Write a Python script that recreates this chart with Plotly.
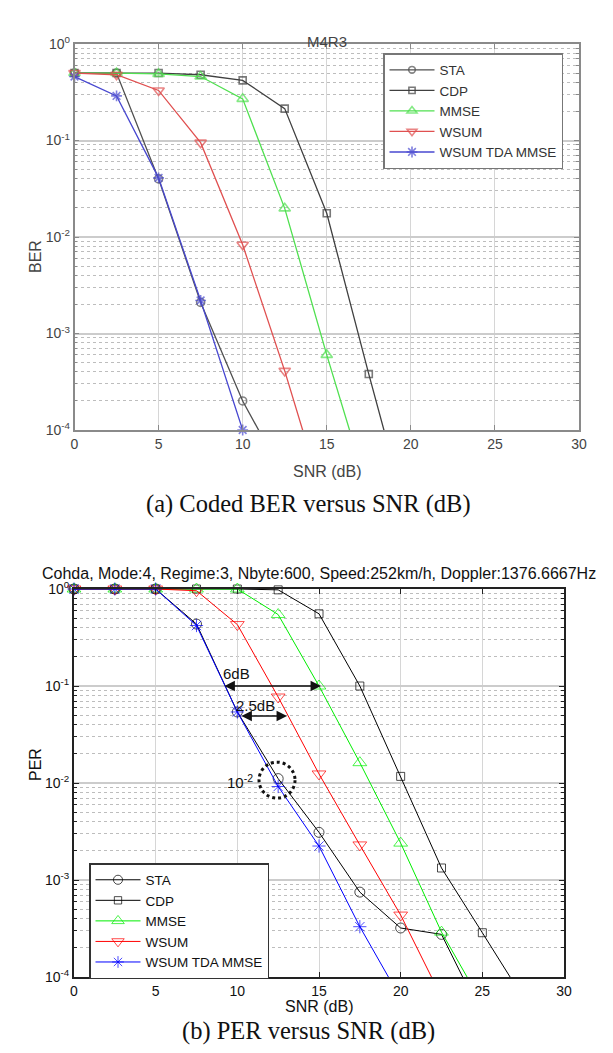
import math
import plotly.graph_objects as go

# ---------------- data ----------------
snr_a = [0, 2.5, 5, 7.5, 10, 12.5, 15, 17.5, 20]
ber_sta = [0.5, 0.5, 0.04, 0.0021, 2.0e-4, 3.2e-5]
ber_cdp = [0.5, 0.5, 0.5, 0.48, 0.42, 0.214, 0.0176, 3.8e-4, 9.3e-6]
ber_mmse = [0.5, 0.5, 0.49, 0.46, 0.27, 0.0198, 6.0e-4, 2.2e-5]
ber_wsum = [0.5, 0.48, 0.33, 0.095, 0.0083, 4.1e-4, 1.5e-5]
ber_tda = [0.46, 0.29, 0.041, 0.0022, 1.0e-4]

snr_b = [0, 2.5, 5, 7.5, 10, 12.5, 15, 17.5, 20, 22.5, 25, 27.5]
per_sta = [1, 1, 1, 0.435, 0.054, 0.0111, 3.1e-3, 7.5e-4, 3.2e-4, 2.75e-4, 3.9e-5]
per_cdp = [1, 1, 1, 1, 1, 0.98, 0.555, 0.1, 0.0117, 1.33e-3, 2.86e-4, 6.1e-5]
per_mmse = [1, 1, 1, 1, 1, 0.545, 0.1, 0.0162, 2.4e-3, 2.9e-4, 5.3e-5]
per_wsum = [1, 1, 1, 0.96, 0.43, 0.077, 0.0124, 2.3e-3, 4.35e-4, 6.2e-5]
per_tda = [1, 1, 1, 0.42, 0.054, 0.0092, 2.24e-3, 3.3e-4, 6.0e-5]

names = ["STA", "CDP", "MMSE", "WSUM", "WSUM TDA MMSE"]
x_ticks = [0, 5, 10, 15, 20, 25, 30]
y_ticks = [1e-4, 1e-3, 1e-2, 1e-1, 1]
y_ticktext = ["10<sup>-4</sup>", "10<sup>-3</sup>", "10<sup>-2</sup>", "10<sup>-1</sup>", "10<sup>0</sup>"]
minor_vals = [m * 10 ** e for e in range(-4, 0) for m in range(2, 10)]

title_a = "M4R3"
title_b = "Cohda, Mode:4, Regime:3, Nbyte:600, Speed:252km/h, Doppler:1376.6667Hz"
caption_a = "(a) Coded BER versus SNR (dB)"
caption_b = "(b) PER versus SNR (dB)"

# annotation data for (b)
arrow6_x = [9.12, 15.12]
arrow6_y = 0.1
arrow25_x = [10.16, 13.04]
arrow25_y = 0.049
circle_x, circle_y = 12.43, 0.0107

W, H = 613, 1053
SANS = "Liberation Sans, Arial, sans-serif"
SERIF = "Liberation Serif, Times New Roman, serif"


def px_x(p):
    return p / W


def px_y(p):
    return 1 - p / H


# plot areas (pixels)
A_L, A_R, A_T, A_B = 66.5, 571, 36, 422
B_L, B_R, B_T, B_B = 66, 556, 581, 969

fig = go.Figure()

symbols = ["circle-open", "square-open", "triangle-up-open", "triangle-down-open", "asterisk-open"]
colors_a = ["#505050", "#404040", "#50e050", "#e05050", "#4848d0"]
colors_b = ["#000000", "#000000", "#00ee00", "#ff0000", "#0000ff"]
sizes_a = [8, 7, 10, 10, 9]
sizes_b = [10, 8, 12, 12, 11]


def msize(vals, s):
    return [s if v >= 1e-4 else 0 for v in vals]


for i, (ys, name) in enumerate(zip([ber_sta, ber_cdp, ber_mmse, ber_wsum, ber_tda], names)):
    fig.add_trace(go.Scatter(
        x=snr_a[:len(ys)], y=ys, name=name, mode="lines+markers",
        xaxis="x", yaxis="y", legend="legend", cliponaxis=False,
        line=dict(color=colors_a[i], width=1.3),
        marker=dict(symbol=symbols[i], size=msize(ys, sizes_a[i]), color=colors_a[i],
                    line=dict(color=colors_a[i], width=1.6)),
    ))

for i, (ys, name) in enumerate(zip([per_sta, per_cdp, per_mmse, per_wsum, per_tda], names)):
    fig.add_trace(go.Scatter(
        x=snr_b[:len(ys)], y=ys, name=name, mode="lines+markers",
        xaxis="x2", yaxis="y2", legend="legend2", cliponaxis=False,
        line=dict(color=colors_b[i], width=1),
        marker=dict(symbol=symbols[i], size=msize(ys, sizes_b[i]), color=colors_b[i],
                    line=dict(color=colors_b[i], width=1)),
    ))


def xaxis(domain, anchor, lc, tc, tfs, lw):
    return dict(domain=domain, anchor=anchor, range=[0, 30], tickvals=x_ticks,
                showline=True, linecolor=lc, linewidth=lw, mirror="allticks",
                ticks="inside", ticklen=5, tickcolor=lc, showgrid=True,
                gridcolor="#d6d6d6", gridwidth=1, zeroline=False, automargin=False,
                tickfont=dict(family=SANS, size=tfs, color=tc))


def yaxis(domain, anchor, lc, tc, tfs, lw):
    return dict(domain=domain, anchor=anchor, type="log", range=[-4, 0],
                tickvals=y_ticks, ticktext=y_ticktext, automargin=False,
                showline=True, linecolor=lc, linewidth=lw, mirror="allticks",
                ticks="inside", ticklen=5, tickcolor=lc, showgrid=True,
                gridcolor="#cccccc", gridwidth=2, zeroline=False,
                tickfont=dict(family=SANS, size=tfs, color=tc),
                minor=dict(tickvals=minor_vals, showgrid=True, griddash="dot",
                           gridcolor="#bdbdbd", gridwidth=1, ticks="inside",
                           ticklen=3, tickcolor=lc))


fig.update_layout(
    width=W, height=H, margin=dict(l=0, r=0, t=0, b=0, autoexpand=False),
    paper_bgcolor="white", plot_bgcolor="white",
    font=dict(family=SANS, size=13, color="#222"),
    xaxis=xaxis([px_x(A_L), px_x(A_R)], "y", "#8a8a8a", "#444", 14, 1.5),
    yaxis=yaxis([px_y(A_B), px_y(A_T)], "x", "#8a8a8a", "#444", 14, 1.5),
    xaxis2=xaxis([px_x(B_L), px_x(B_R)], "y2", "#222", "#111", 14, 2),
    yaxis2=yaxis([px_y(B_B), px_y(B_T)], "x2", "#222", "#111", 14, 2),
    legend=dict(x=px_x(375), y=px_y(45), xanchor="left", yanchor="top",
                bgcolor="white", bordercolor="#777", borderwidth=1.5,
                font=dict(family=SANS, size=13.5, color="#333"), itemwidth=45,
                tracegroupgap=0),
    legend2=dict(x=px_x(81), y=px_y(855), xanchor="left", yanchor="top",
                 bgcolor="white", bordercolor="#333", borderwidth=1.5,
                 font=dict(family=SANS, size=13.5, color="#111"), itemwidth=45,
                 tracegroupgap=0),
    showlegend=True,
)

ann = []
# titles
ann.append(dict(text=title_a, x=px_x(319), y=px_y(23), xref="paper", yref="paper",
                showarrow=False, font=dict(family=SANS, size=15, color="#444")))
ann.append(dict(text=title_b, x=px_x(311), y=px_y(565), xref="paper", yref="paper",
                showarrow=False, font=dict(family=SANS, size=16, color="#111")))
# axis titles
ann.append(dict(text="SNR (dB)", x=px_x(319), y=px_y(463), xref="paper", yref="paper",
                showarrow=False, font=dict(family=SANS, size=16, color="#444")))
ann.append(dict(text="BER", x=px_x(17), y=px_y(230), xref="paper", yref="paper", textangle=-90,
                showarrow=False, font=dict(family=SANS, size=16, color="#444")))
ann.append(dict(text="SNR (dB)", x=px_x(311), y=px_y(1009), xref="paper", yref="paper",
                showarrow=False, font=dict(family=SANS, size=16, color="#111")))
ann.append(dict(text="PER", x=px_x(17), y=px_y(775), xref="paper", yref="paper", textangle=-90,
                showarrow=False, font=dict(family=SANS, size=16, color="#111")))
# captions
ann.append(dict(text=caption_a, x=px_x(300), y=px_y(496), xref="paper", yref="paper",
                showarrow=False, font=dict(family=SERIF, size=24.5, color="#111")))
ann.append(dict(text=caption_b, x=px_x(300), y=px_y(1039), xref="paper", yref="paper",
                showarrow=False, font=dict(family=SERIF, size=24.5, color="#111")))
# arrows in (b)
for xs, yv in [(arrow6_x, arrow6_y), (arrow25_x, arrow25_y)]:
    ann.append(dict(x=xs[1], y=math.log10(yv), ax=xs[0], ay=math.log10(yv),
                    xref="x2", yref="y2", axref="x2", ayref="y2", text="",
                    showarrow=True, arrowside="end+start", arrowhead=2, startarrowhead=2,
                    arrowsize=1.3, startarrowsize=1.3, arrowwidth=1.6, arrowcolor="#111"))
ann.append(dict(text="6dB", x=9.92, y=-0.866, xref="x2", yref="y2",
                showarrow=False, font=dict(family=SANS, size=15, color="#111")))
ann.append(dict(text="2.5dB", x=11.14, y=-1.206, xref="x2", yref="y2",
                showarrow=False, font=dict(family=SANS, size=15, color="#111")))
ann.append(dict(text="10<sup>-2</sup>", x=11.1, y=-1.98, xanchor="right", xref="x2", yref="y2",
                showarrow=False, font=dict(family=SANS, size=15, color="#111")))
fig.update_layout(annotations=ann)

# dotted circle around the 10^-2 point (radius ~18 px)
rx = 18 / (B_R - B_L) * 30
ry = 18 / ((B_B - B_T) / 4)
fig.add_shape(type="circle", xref="x2", yref="y2",
              x0=circle_x - rx, x1=circle_x + rx,
              y0=circle_y / 10 ** ry, y1=circle_y * 10 ** ry,
              line=dict(color="#111", width=3, dash="dot"))

fig.write_html("out.html")
